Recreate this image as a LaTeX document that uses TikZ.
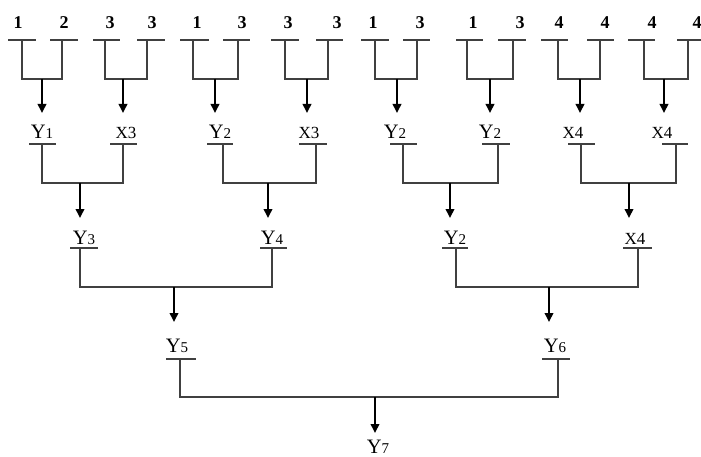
\documentclass[tikz,border=0pt]{standalone}
\usepackage{fontspec}
\setmainfont{Liberation Serif}
\usetikzlibrary{arrows.meta}
\newcommand\Yv[1]{Y{\fontsize{15}{15}\selectfont #1}}
\newcommand\Xv[1]{{\fontsize{17}{17}\selectfont X#1}}
\tikzset{
  wire/.style={line width=1.2pt, draw=black!75},
  ubar/.style={line width=1.5pt, draw=black!75},
  arr/.style={line width=1.9pt, draw=black, -{Triangle[length=9pt,width=8.5pt]}},
  digit/.style={font=\fontsize{18}{18}\selectfont\bfseries, inner sep=0pt, anchor=base},
  var/.style={font=\fontsize{20.5}{20.5}\selectfont, inner sep=0pt, anchor=base},
}
\begin{document}
\begin{tikzpicture}[x=1pt,y=-1pt]
\useasboundingbox (0,0) rectangle (701,457);
% ---------- top row ----------
\foreach \g/\la/\xa/\aa/\ba/\va/\lb/\xb/\ab/\bb/\vb/\m/\w in {
  1/1/18/8/36/22/2/64/50/78/62/42/1.2,
  2/3/110/93/120/105/3/152/137/165/147/123/1.2,
  3/1/197/180/209/193/3/242/223/250/238/215/1.2,
  4/3/288/271/299/285/3/337/316/343/328/307/1.2,
  5/1/373/361/389/375/3/420/403/430/417/397/1.2,
  6/1/473/456/483/467/3/520/498/526/513/490/1.2,
  7/4/559/541/568/558/4/605/587/614/600/580/1.2,
  8/4/652/628/655/644/4/697/677/705/688/664/1.8}
{
  \node[digit] (ta\g) at (\xa,29) {\la};
  \node[digit] (tb\g) at (\xb,29) {\lb};
  \draw[ubar] (\aa,40) -- (\ba,40);
  \draw[ubar] (\ab,40) -- (\bb,40);
  \coordinate (pa\g) at (\va,40);
  \coordinate (pb\g) at (\vb,40);
  \coordinate (j\g) at (\m,79);
  \coordinate (a\g) at (\m,113);
  \draw[wire, line width=\w pt] (pa\g) |- (j\g) -| (pb\g);
  \draw[arr] (j\g) -- (a\g);
}
% ---------- level 1 ----------
\foreach \g/\txt/\cx/\p/\q/\v in {
  1/\Yv{1}/42/29/56/42,
  2/\Xv{3}/126/110/137/123,
  3/\Yv{2}/220/207/233/223,
  4/\Xv{3}/309/299/327/316,
  5/\Yv{2}/395/390/417/403,
  6/\Yv{2}/490/482/510/498,
  7/\Xv{4}/573/568/595/581,
  8/\Xv{4}/662/662/688/676}
{
  \node[var] (l\g) at (\cx,139) {\txt};
  \draw[ubar] (\p,144) -- (\q,144);
  \coordinate (v\g) at (\v,144);
}
\foreach \k/\u/\w/\m in {1/1/2/80, 2/3/4/268, 3/5/6/450, 4/7/8/629}
{
  \coordinate (k\k) at (\m,183);
  \coordinate (ka\k) at (\m,218);
  \draw[wire] (v\u) |- (k\k) -| (v\w);
  \draw[arr] (k\k) -- (ka\k);
}
% ---------- level 2 ----------
\foreach \g/\txt/\cx/\p/\q/\v in {
  1/\Yv{3}/84/70/98/80,
  2/\Yv{4}/272/260/287/272,
  3/\Yv{2}/455/442/468/456,
  4/\Xv{4}/635/623/652/638}
{
  \node[var] (m\g) at (\cx,244) {\txt};
  \draw[ubar] (\p,248) -- (\q,248);
  \coordinate (w\g) at (\v,248);
}
\foreach \k/\u/\w/\m in {1/1/2/174, 2/3/4/549}
{
  \coordinate (n\k) at (\m,287);
  \coordinate (na\k) at (\m,322);
  \draw[wire] (w\u) |- (n\k) -| (w\w);
  \draw[arr] (n\k) -- (na\k);
}
% ---------- level 3 ----------
\foreach \g/\txt/\cx/\p/\q/\v in {
  1/\Yv{5}/177/166/196/180,
  2/\Yv{6}/555/542/570/558}
{
  \node[var] (r\g) at (\cx,352) {\txt};
  \draw[ubar] (\p,359) -- (\q,359);
  \coordinate (z\g) at (\v,359);
}
\coordinate (s) at (375,397);
\coordinate (sa) at (375,433);
\draw[wire] (z1) |- (s) -| (z2);
\draw[arr] (s) -- (sa);
% ---------- level 4 ----------
\node[var] (y7) at (378,453) {\Yv{7}};
\end{tikzpicture}
\end{document}
